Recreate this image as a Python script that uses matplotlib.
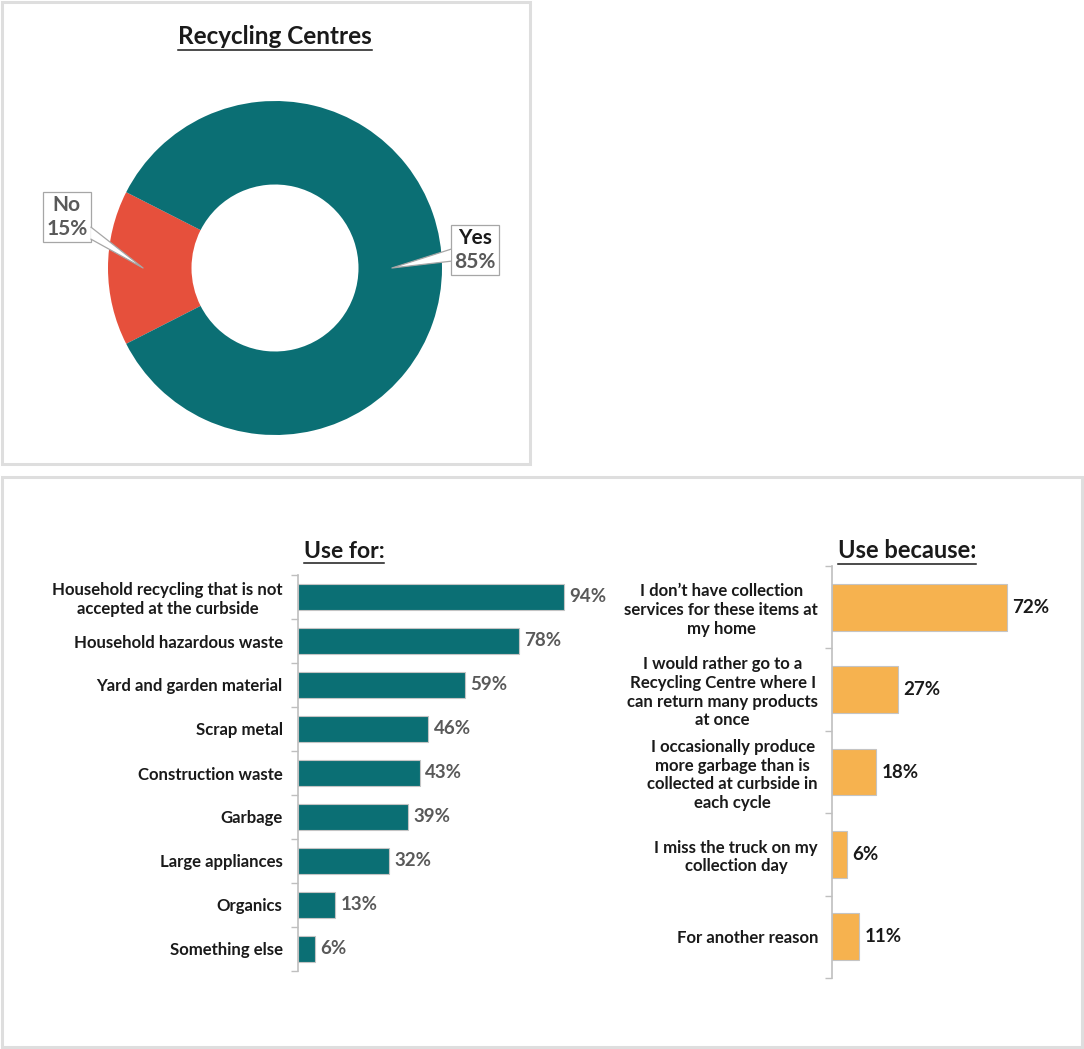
import numpy as np
import matplotlib
matplotlib.use("Agg")
import matplotlib.pyplot as plt
from matplotlib.patches import Rectangle, Polygon
from matplotlib.lines import Line2D
from matplotlib.transforms import Bbox

plt.rcParams["font.family"] = ["Lato", "DejaVu Sans"]

# Survey results
donut_labels = ["No", "Yes"]
donut_values = [15, 85]

use_for = [
    "Household recycling that is not\naccepted at the curbside",
    "Household hazardous waste",
    "Yard and garden material",
    "Scrap metal",
    "Construction waste",
    "Garbage",
    "Large appliances",
    "Organics",
    "Something else",
]
use_for_pct = [94, 78, 59, 46, 43, 39, 32, 13, 6]

use_because = [
    "I don\u2019t have collection\nservices for these items at\nmy home",
    "I would rather go to a\nRecycling Centre where I\ncan return many products\nat once",
    "I occasionally produce\nmore garbage than is\ncollected at curbside in\neach cycle",
    "I miss the truck on my\ncollection day",
    "For another reason",
]
use_because_pct = [72, 27, 18, 6, 11]

TEAL = "#0b6f74"
RED = "#e6503c"
ORANGE = "#f6b24f"
GREY_TXT = "#595959"
DARK_TXT = "#1a1a1a"
FRAME = "#dedede"
CALLOUT = "#a6a6a6"

W, H = 1084, 1049
fig = plt.figure(figsize=(W / 100, H / 100), dpi=100)


def fig_rect(x0, y0, x1, y1):
    # pixel box (top-left origin) -> figure fraction [left, bottom, width, height]
    return [x0 / W, 1 - y1 / H, (x1 - x0) / W, (y1 - y0) / H]


def frame(x0, y0, x1, y1):
    fig.add_artist(Rectangle((x0 / W, 1 - y1 / H), (x1 - x0) / W, (y1 - y0) / H,
                             transform=fig.transFigure, fill=False,
                             ec=FRAME, lw=2.2))


def underlined_title(x, y, s, size):
    t = fig.text(x / W, 1 - y / H, s, ha="center", va="center",
                 fontsize=size, fontweight="bold", color=DARK_TXT)
    fig.canvas.draw()
    bb = t.get_window_extent().transformed(fig.transFigure.inverted())
    yl = bb.y0 - 1.5 / H
    fig.add_artist(Line2D([bb.x0, bb.x1], [yl, yl], transform=fig.transFigure,
                          color=DARK_TXT, lw=1.1))


frame(2, 2, 530, 464)
frame(2, 477, 1082, 1047)

# --- Donut: Recycling Centres ---
cx, cy, r = 275, 268, 167
axD = fig.add_axes(fig_rect(cx - 210, cy - 210, cx + 210, cy + 210))
wedges, _ = axD.pie(donut_values, startangle=153, counterclock=True,
                    colors=[RED, TEAL], radius=1.0,
                    wedgeprops=dict(width=0.5, linewidth=0))
lim = 210 / r
axD.set_xlim(-lim, lim)
axD.set_ylim(-lim, lim)
axD.axis("off")

px = 1 / r  # one pixel in donut data units
box_pos = [(-1.246, 0.305), (1.198, 0.108)]
tip_r = [0.79, 0.70]
name_colors = [GREY_TXT, DARK_TXT]
callouts = []
for w, lab, val, (bx, by), tr, nc in zip(wedges, donut_labels, donut_values,
                                         box_pos, tip_r, name_colors):
    mid = np.deg2rad((w.theta1 + w.theta2) / 2)
    tip = (tr * np.cos(mid), tr * np.sin(mid))
    t1 = axD.text(bx, by + 12 * px, lab, ha="center", va="center", fontsize=15,
                  fontweight="bold", color=nc, zorder=6)
    t2 = axD.text(bx, by - 12 * px, f"{val}%", ha="center", va="center", fontsize=15,
                  fontweight="bold", color=GREY_TXT, zorder=6)
    callouts.append((t1, t2, (bx, by), tip))

fig.canvas.draw()
inv = axD.transData.inverted()
for t1, t2, (bx, by), tip in callouts:
    bb = Bbox.union([t1.get_window_extent(), t2.get_window_extent()]).transformed(inv)
    x0, x1 = bb.x0 - 3.5 * px, bb.x1 + 3.5 * px
    y0, y1 = bb.y0 - 3 * px, bb.y1 + 3 * px
    axD.add_patch(Rectangle((x0, y0), x1 - x0, y1 - y0, fc="white", ec=CALLOUT,
                            lw=0.9, zorder=4, clip_on=False))
    # pointer leaves the box side that faces the wedge
    edge_x = x0 if tip[0] < bx else x1
    ey = by + (tip[1] - by) * (edge_x - bx) / (tip[0] - bx)
    hw = 6 * px
    base_a, base_b = (edge_x, ey - hw), (edge_x, ey + hw)
    axD.add_patch(Polygon([base_a, tip, base_b], closed=True, fc="white", ec="none",
                          zorder=5, clip_on=False))
    axD.add_line(Line2D([base_a[0], tip[0], base_b[0]], [base_a[1], tip[1], base_b[1]],
                        color=CALLOUT, lw=0.9, zorder=5, clip_on=False))

underlined_title(275, 37, "Recycling Centres", 17.5)


# --- Horizontal bar panels ---
def bar_panel(rect, cats, vals, color, bar_h, label_color, value_color, pad):
    ax = fig.add_axes(rect)
    y = np.arange(len(cats))
    ax.barh(y, vals, height=bar_h, color=color, edgecolor="#c4c4c4", linewidth=0.8)
    ax.set_xlim(0, 100)
    ax.set_ylim(len(cats) - 0.5, -0.5)
    ax.set_yticks(y)
    ax.set_yticklabels(cats, fontsize=12.1, fontweight="bold", color=label_color,
                       multialignment="center")
    ax.set_yticks(np.arange(len(cats) + 1) - 0.5, minor=True)
    ax.tick_params(axis="y", which="major", length=0, pad=pad)
    ax.tick_params(axis="y", which="minor", length=5, width=1, color="#bfbfbf",
                   direction="out")
    ax.set_xticks([])
    for s in ("top", "right", "bottom"):
        ax.spines[s].set_visible(False)
    ax.spines["left"].set_color("#bfbfbf")
    ax.spines["left"].set_linewidth(1.2)
    ax.patch.set_alpha(0)
    for yi, v in zip(y, vals):
        ax.annotate(f"{v}%", xy=(v, yi), xytext=(4, 0), textcoords="offset points",
                    ha="left", va="center", fontsize=13.5, fontweight="bold",
                    color=value_color)
    return ax


bar_panel(fig_rect(298, 575, 581, 971), use_for, use_for_pct, TEAL, 0.59,
          DARK_TXT, GREY_TXT, 11)
bar_panel(fig_rect(832, 566, 1075, 978), use_because, use_because_pct, ORANGE, 0.57,
          DARK_TXT, DARK_TXT, 10)

underlined_title(344, 551, "Use for:", 16.5)
underlined_title(907, 551, "Use because:", 17)

fig.savefig("out.png", dpi=100)
